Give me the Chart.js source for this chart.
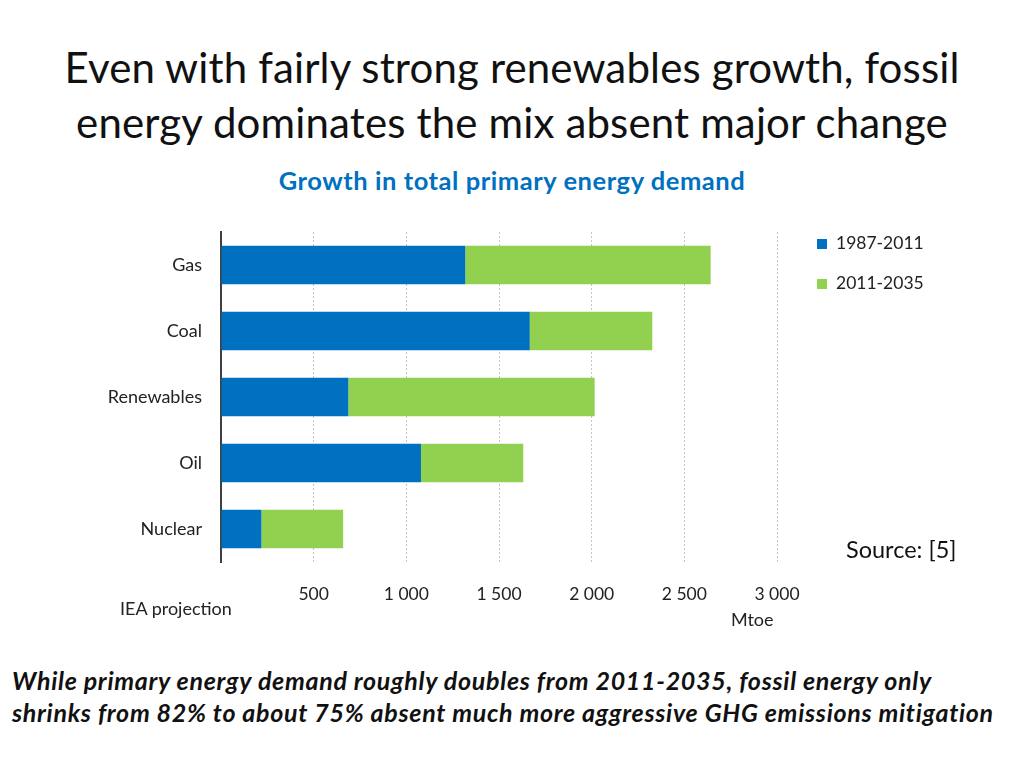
<!DOCTYPE html>
<html>
<head>
<meta charset="utf-8">
<script src="https://cdn.jsdelivr.net/npm/chart.js@4"></script>
<style>
  body { margin: 0; width: 1024px; height: 768px; background: #fff; font-family: Lato, "Open Sans", sans-serif; position: relative; overflow: hidden; }
  .abs { position: absolute; white-space: nowrap; }
  #title { left: 0; width: 1024px; top: 40px; text-align: center; font-size: 42px; letter-spacing: 0.15px; line-height: 55px; color: #111; }
  #subtitle { left: 0; width: 1024px; top: 165px; text-align: center; font-size: 25.5px; letter-spacing: 0.55px; font-weight: bold; color: #0070C0; }
  #chart-box { left: 0; top: 200px; width: 1024px; height: 440px; }
  #legend .item { position: absolute; left: 817px; font-size: 17.5px; color: #222; white-space: nowrap; }
  #legend .swatch { position: absolute; left: 0; top: 6px; width: 10px; height: 10px; }
  #legend .label { position: absolute; left: 19px; top: -1px; }
  #note { left: 12px; top: 664px; font-size: 25px; letter-spacing: 0.7px; line-height: 32px; font-weight: bold; font-style: italic; color: #111; }
</style>
</head>
<body>
<div id="title" class="abs">Even with fairly strong renewables growth, fossil<br>energy dominates the mix absent major change</div>
<div id="subtitle" class="abs">Growth in total primary energy demand</div>
<div id="chart-box" class="abs"><canvas id="chart" width="1024" height="440"></canvas></div>
<div id="legend"></div>
<div class="abs" style="left:120px; top:597px; font-size:18px; color:#222;">IEA projection</div>
<div class="abs" style="left:731px; top:608px; font-size:18px; color:#222;">Mtoe</div>
<div class="abs" style="left:846px; top:535px; font-size:23.5px; color:#111;">Source: [5]</div>
<div id="note" class="abs">While primary energy demand roughly doubles from 2011-2035, fossil energy only<br>shrinks from 82% to about 75% absent much more aggressive GHG emissions mitigation</div>

<script>
  const categories = ['Gas', 'Coal', 'Renewables', 'Oil', 'Nuclear'];
  const seriesNames = ['1987-2011', '2011-2035'];
  const growth1987to2011 = [1318, 1666, 687, 1079, 218];
  const growth2011to2035 = [1324, 661, 1329, 552, 441];
  const seriesColors = ['#0070C0', '#92D050'];
  const tickValues = [500, 1000, 1500, 2000, 2500, 3000];

  function formatThousands(v) {
    return String(v).replace(/\B(?=(\d{3})+(?!\d))/g, ' ');
  }

  // legend built from the series arrays
  const legend = document.getElementById('legend');
  seriesNames.forEach((name, i) => {
    const item = document.createElement('div');
    item.className = 'item';
    item.style.top = (233 + i * 40) + 'px';
    item.innerHTML = `<span class="swatch" style="background:${seriesColors[i]}"></span><span class="label">${name}</span>`;
    legend.appendChild(item);
  });

  const ctx = document.getElementById('chart').getContext('2d');
  new Chart(ctx, {
    type: 'bar',
    data: {
      labels: categories,
      datasets: [
        { label: seriesNames[0], data: growth1987to2011, backgroundColor: seriesColors[0] },
        { label: seriesNames[1], data: growth2011to2035, backgroundColor: seriesColors[1] }
      ]
    },
    options: {
      indexAxis: 'y',
      responsive: false,
      animation: false,
      datasets: { bar: { categoryPercentage: 1, barPercentage: 0.58 } },
      layout: { padding: { top: 32, right: 247, left: 0, bottom: 0 } },
      plugins: { legend: { display: false }, tooltip: { enabled: false } },
      scales: {
        x: {
          stacked: true,
          min: 0,
          max: 3000,
          afterBuildTicks: (scale) => { scale.ticks = [0].concat(tickValues).map(v => ({ value: v })); },
          afterFit: (scale) => { scale.height = 78; },
          grid: { color: '#c4c4c4', lineWidth: 1, drawTicks: false },
          border: { display: false, dash: [2, 2] },
          ticks: {
            padding: 22,
            color: '#222',
            font: { family: 'Lato', size: 17.5 },
            callback: (v) => v === 0 ? '' : formatThousands(v)
          }
        },
        y: {
          stacked: true,
          afterFit: (scale) => { scale.width = 221; },
          grid: { display: false, drawTicks: false },
          border: { display: true, color: '#404040', width: 2 },
          ticks: {
            padding: 19,
            color: '#222',
            font: { family: 'Lato', size: 18 }
          }
        }
      }
    }
  });
</script>
</body>
</html>
